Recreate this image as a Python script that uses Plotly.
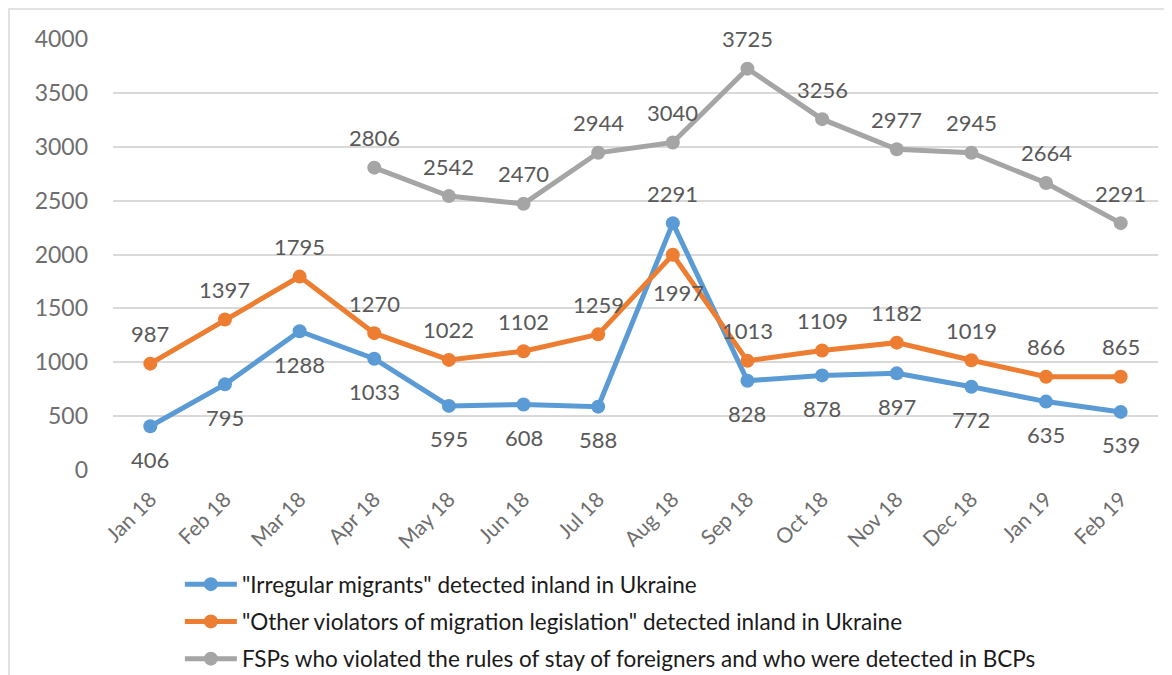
import plotly.graph_objects as go

# Monthly figures
months = ['Jan 18', 'Feb 18', 'Mar 18', 'Apr 18', 'May 18', 'Jun 18', 'Jul 18',
          'Aug 18', 'Sep 18', 'Oct 18', 'Nov 18', 'Dec 18', 'Jan 19', 'Feb 19']
irregular = [406, 795, 1288, 1033, 595, 608, 588, 2291, 828, 878, 897, 772, 635, 539]
other_violators = [987, 1397, 1795, 1270, 1022, 1102, 1259, 1997, 1013, 1109, 1182, 1019, 866, 865]
fsp_months = months[3:]
fsp_bcp = [2806, 2542, 2470, 2944, 3040, 3725, 3256, 2977, 2945, 2664, 2291]

names = ['"Irregular migrants" detected inland in Ukraine',
         '"Other violators of migration legislation" detected inland in Ukraine',
         'FSPs who violated the rules of stay of foreigners and who were detected in BCPs']
colors = ['#5B9BD5', '#ED7D31', '#A5A5A5']
FONT = 'Lato, Calibri, sans-serif'

fig = go.Figure()
series = [(months, irregular), (months, other_violators), (fsp_months, fsp_bcp)]
for i, (xs, ys) in enumerate(series):
    fig.add_trace(go.Scatter(
        x=xs, y=ys, mode='lines+markers', name=names[i],
        line=dict(color=colors[i], width=5),
        marker=dict(color=colors[i], size=14),
        legendgroup=str(i),
    ))

# data labels: blue below (except Aug), orange above (except Aug), gray above
annotations = []
for xs, ys, idx in [(months, irregular, 0), (months, other_violators, 1), (fsp_months, fsp_bcp, 2)]:
    for x, y in zip(xs, ys):
        if idx == 0:
            shift = 30 if x == 'Aug 18' else -33
        elif idx == 1:
            shift = -38 if x == 'Aug 18' else 30
        else:
            shift = 30
        annotations.append(dict(
            x=x, y=y, text=str(y), showarrow=False, yshift=shift,
            xshift=6 if (idx == 1 and x == 'Aug 18') else 0,
            font=dict(family=FONT, size=22, color='#595959'),
        ))

W, H = 1164, 667
L, R, T, B = 105, 14, 31, 205
pw, ph = W - L - R, H - T - B

fig.update_layout(
    width=W, height=H,
    margin=dict(l=L, r=R, t=T, b=B, autoexpand=False),
    paper_bgcolor='white', plot_bgcolor='white',
    font=dict(family=FONT, color='#595959'),
    annotations=annotations,
    showlegend=True,
    legend=dict(
        x=0.064, y=(H - 555) / H, xanchor='left', yanchor='top', yref='container',
        orientation='v', tracegroupgap=5, itemwidth=52,
        font=dict(family=FONT, size=22.5, color='#1a1a1a'),
    ),
    shapes=[dict(
        type='rect', xref='paper', yref='paper',
        x0=(1 - L) / pw, x1=(W + 5 - L) / pw,
        y0=-0.6, y1=1 + (T - 1) / ph,
        line=dict(color='#d9d9d9', width=1.5), layer='below',
    )],
)
fig.update_xaxes(
    type='category', range=[-0.5, 13.5], tickangle=-45, automargin=False,
    showgrid=False, showline=False, zeroline=False,
    tickfont=dict(family=FONT, size=21, color='#6e6e6e'),
    ticklabelstandoff=12,
)
fig.update_yaxes(
    range=[0, 4000], dtick=500, showgrid=True, gridcolor='#d9d9d9', gridwidth=1.5,
    zeroline=False, showline=False, automargin=False,
    tickfont=dict(family=FONT, size=23, color='#6e6e6e'),
    ticklabelstandoff=24,
)

fig.write_html("out.html")
